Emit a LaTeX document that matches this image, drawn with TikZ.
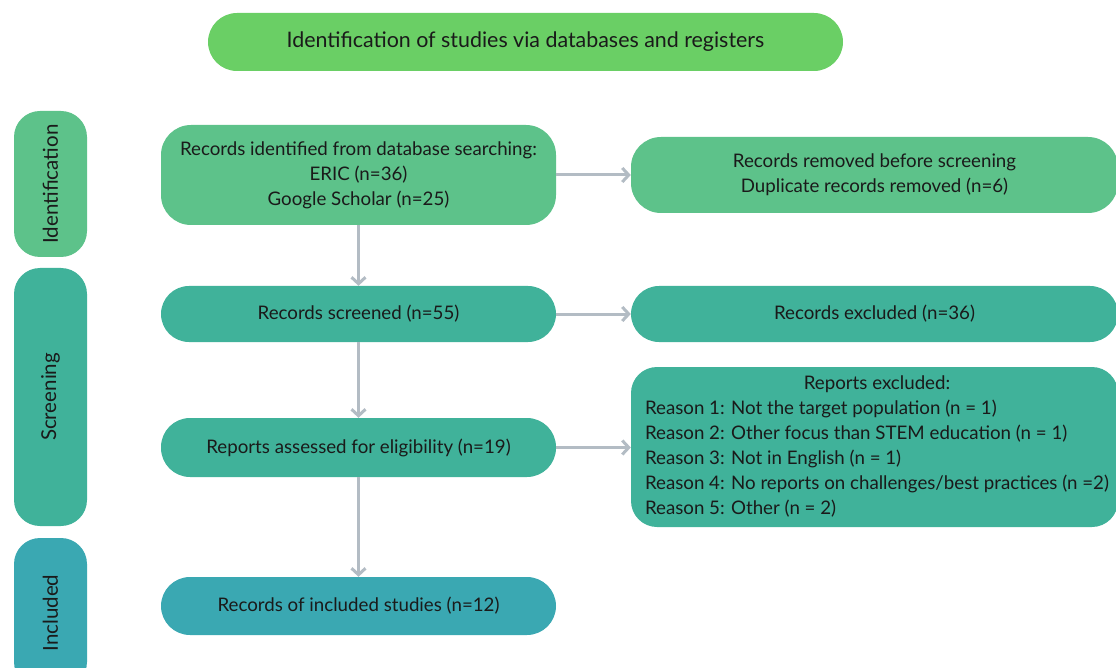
\documentclass[tikz,border=0pt]{standalone}
\usepackage{fontspec}
\setmainfont{Lato}
\usetikzlibrary{arrows.meta}
\definecolor{cTop}{HTML}{6ACF65}
\definecolor{cId}{HTML}{5DC28A}
\definecolor{cScr}{HTML}{40B29A}
\definecolor{cInc}{HTML}{3AA8B2}
\definecolor{cArr}{HTML}{B3BCC4}
\definecolor{cTxt}{HTML}{1A1A1A}
\tikzset{
  box/.style={draw=none, text=cTxt, font=\fontsize{18.7}{25}\selectfont, align=center, inner sep=0pt, anchor=center},
  phase/.style={box, rounded corners=26pt, font=\fontsize{20.5}{24}\selectfont, rotate=90},
  flow/.style={draw=cArr, line width=3pt, -{Straight Barb[length=6.5pt,width=14pt,line width=3pt]}},
}
\begin{document}
\begin{tikzpicture}[x=1pt,y=-1pt]
\clip (0,0) rectangle (1116,668);
\useasboundingbox (0,0) rectangle (1116,668);
% title
\node[box, fill=cTop, rounded corners=29pt, minimum width=635pt, minimum height=58pt, font=\fontsize{21.4}{26}\selectfont] (title) at (525.5,42) {Identification of studies via databases and registers};
% phases
\node[phase, fill=cId, minimum width=146pt, minimum height=73pt] (pid) at (50.5,184) {Identification};
\node[phase, fill=cScr, minimum width=258pt, minimum height=73pt] (pscr) at (50.5,397) {Screening};
\node[phase, fill=cInc, minimum width=150pt, minimum height=73pt] (pinc) at (50.5,613) {Included};
% main column
\node[box, fill=cId, rounded corners=30pt, minimum width=395pt, minimum height=100pt] (ident) at (358.5,175) {Records identified from database searching:\\ERIC (n=36)\\Google Scholar (n=25)};
\node[box, fill=cScr, rounded corners=28pt, minimum width=395pt, minimum height=56pt] (scr) at (358.5,314) {Records screened (n=55)};
\node[box, fill=cScr, rounded corners=29pt, minimum width=395pt, minimum height=59pt] (elig) at (358.5,447.5) {Reports assessed for eligibility (n=19)};
\node[box, fill=cInc, rounded corners=29pt, minimum width=395pt, minimum height=58pt] (incl) at (358.5,606) {Records of included studies (n=12)};
% right column
\node[box, fill=cId, rounded corners=30pt, minimum width=487pt, minimum height=76pt] (removed) at (874.5,175) {Records removed before screening\\Duplicate records removed (n=6)};
\node[box, fill=cScr, rounded corners=28pt, minimum width=487pt, minimum height=56pt] (excl) at (874.5,314) {Records excluded (n=36)};
\node[box, fill=cScr, rounded corners=26pt, minimum width=487pt, minimum height=160pt] (rexcl) at (874.5,447) {\hspace*{5pt}\begin{tabular}{@{}l@{}}\multicolumn{1}{@{}c@{}}{Reports excluded:}\\Reason 1: Not the target population (n = 1)\\Reason 2: Other focus than STEM education (n = 1)\\Reason 3: Not in English (n = 1)\\Reason 4: No reports on challenges/best practices (n =2)\\Reason 5: Other (n = 2)\end{tabular}};
% arrows
\draw[flow] (ident.south) -- (scr.north);
\draw[flow] (scr.south) -- (elig.north);
\draw[flow] (elig.south) -- (incl.north);
\draw[flow] (ident.east) -- (removed.west);
\draw[flow] (scr.east) -- (excl.west);
\draw[flow] (elig.east) -- (elig.east -| rexcl.west);
\end{tikzpicture}
\end{document}
